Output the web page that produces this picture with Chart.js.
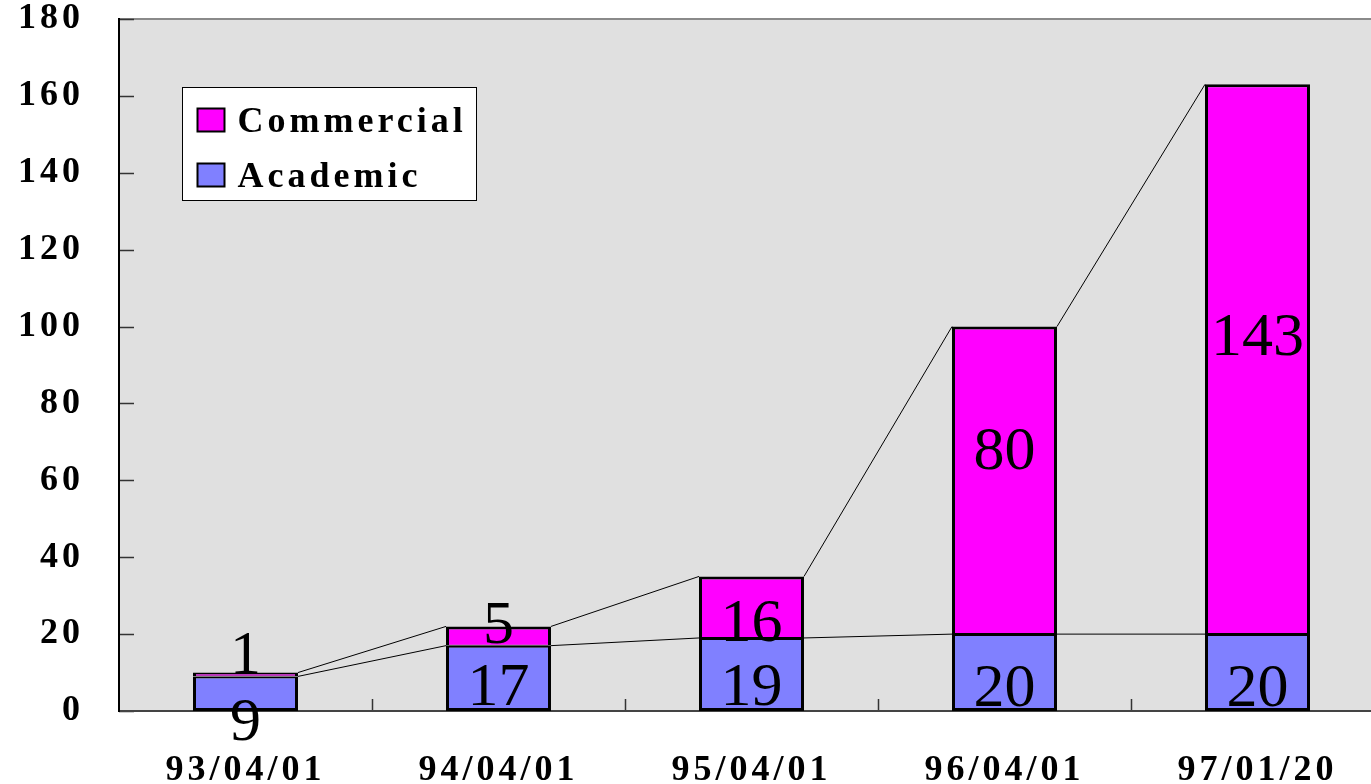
<!DOCTYPE html>
<html>
<head>
<meta charset="utf-8">
<script src="https://cdn.jsdelivr.net/npm/chart.js@4/dist/chart.umd.min.js"></script>
<style>
  html, body { margin: 0; padding: 0; background: #fff; overflow: hidden; }
  #wrap { width: 1371px; height: 784px; overflow: hidden; position: relative; }
  canvas { display: block; }
</style>
</head>
<body>
<div id="wrap"><canvas id="c" width="1384" height="784"></canvas></div>
<script>
const categories = ['93/04/01', '94/04/01', '95/04/01', '96/04/01', '97/01/20'];
const academic = [9, 17, 19, 20, 20];
const commercial = [1, 5, 16, 80, 143];
const seriesNames = ['Academic', 'Commercial'];
const yMin = 0, yMax = 180, yStep = 20;

const SERIF = "'Liberation Serif', 'Times New Roman', serif";

const decorPlugin = {
  id: 'decor',
  beforeDraw(chart) {
    const { ctx, chartArea: a } = chart;
    ctx.save();
    ctx.fillStyle = '#e0e0e0';
    ctx.fillRect(a.left, a.top, a.right - a.left, a.bottom - a.top);
    ctx.strokeStyle = '#8a8a8a';
    ctx.lineWidth = 2;
    ctx.beginPath();
    ctx.moveTo(a.left, a.top);
    ctx.lineTo(a.right, a.top);
    ctx.stroke();
    // inner ticks on y axis
    const ys = chart.scales.y;
    ctx.strokeStyle = '#333';
    ctx.lineWidth = 1.5;
    ys.ticks.forEach(t => {
      const py = Math.round(ys.getPixelForValue(t.value)) + 0.5;
      ctx.beginPath();
      ctx.moveTo(a.left, py);
      ctx.lineTo(a.left + 15, py);
      ctx.stroke();
    });
    // inner ticks on x axis (category boundaries)
    const xs = chart.scales.x;
    for (let i = 0; i < categories.length - 1; i++) {
      const px = Math.round((xs.getPixelForValue(i) + xs.getPixelForValue(i + 1)) / 2) + 0.5;
      ctx.beginPath();
      ctx.moveTo(px, a.bottom);
      ctx.lineTo(px, a.bottom - 12);
      ctx.stroke();
    }
    ctx.restore();
    ctx.letterSpacing = '4px';
  },
  afterDatasetsDraw(chart, args, opts) {
    const { ctx } = chart;
    ctx.save();
    ctx.letterSpacing = '0px';
    // series lines
    ctx.strokeStyle = '#000';
    ctx.lineWidth = 1;
    chart.data.datasets.forEach((ds, di) => {
      const bars = chart.getDatasetMeta(di).data;
      for (let i = 0; i < bars.length - 1; i++) {
        const b0 = bars[i], b1 = bars[i + 1];
        ctx.beginPath();
        ctx.moveTo(b0.x + b0.width / 2, b0.y);
        ctx.lineTo(b1.x - b1.width / 2, b1.y);
        ctx.stroke();
      }
    });
    // value labels
    ctx.fillStyle = '#000';
    ctx.font = '62px ' + SERIF;
    ctx.textAlign = 'center';
    ctx.textBaseline = 'alphabetic';
    chart.data.datasets.forEach((ds, di) => {
      const bars = chart.getDatasetMeta(di).data;
      const offs = opts.offsets[di];
      bars.forEach((b, i) => {
        const cy = (b.y + b.base) / 2 + offs[i];
        ctx.fillText(String(ds.data[i]), b.x, cy + 21);
      });
    });
    ctx.restore();
    // legend
    const a = chart.chartArea;
    ctx.save();
    const lx = a.left + 63.5, ly = a.top + 68.5;
    ctx.fillStyle = '#fff';
    ctx.fillRect(lx, ly, 294, 113);
    ctx.strokeStyle = '#000';
    ctx.lineWidth = 1;
    ctx.strokeRect(lx, ly, 294, 113);
    ctx.font = 'bold 36px ' + SERIF;
    ctx.letterSpacing = '4px';
    ctx.textAlign = 'left';
    ctx.textBaseline = 'alphabetic';
    const order = [1, 0];
    order.forEach((di, k) => {
      const ds = chart.data.datasets[di];
      const sy = ly + 21 + k * 55;
      ctx.fillStyle = ds.backgroundColor;
      ctx.fillRect(lx + 15, sy, 27, 23);
      ctx.lineWidth = 2;
      ctx.strokeStyle = '#000';
      ctx.strokeRect(lx + 15, sy, 27, 23);
      ctx.fillStyle = '#000';
      ctx.fillText(ds.label, lx + 55, sy + 23);
    });
    ctx.restore();
  }
};

new Chart(document.getElementById('c'), {
  type: 'bar',
  data: {
    labels: categories,
    datasets: [
      {
        label: seriesNames[0],
        data: academic,
        backgroundColor: '#8080ff',
        borderColor: '#000',
        borderWidth: { left: 3, right: 3, bottom: 3, top: 2 },
        borderSkipped: false,
        categoryPercentage: 1,
        barPercentage: 0.415
      },
      {
        label: seriesNames[1],
        data: commercial,
        backgroundColor: '#ff00ff',
        borderColor: '#000',
        borderWidth: { left: 3, right: 3, top: 3, bottom: 1 },
        borderSkipped: false,
        categoryPercentage: 1,
        barPercentage: 0.415
      }
    ]
  },
  options: {
    responsive: false,
    animation: false,
    events: [],
    layout: { padding: { top: 19, left: 0, right: 0, bottom: 0 } },
    plugins: {
      legend: { display: false },
      tooltip: { enabled: false },
      decor: { offsets: [[25, 6, 10, 12, 12], [-22, -14, 13, -32, -25]] }
    },
    scales: {
      x: {
        stacked: true,
        grid: { display: false, drawTicks: false },
        border: { display: true, color: '#444', width: 2 },
        ticks: {
          color: '#000',
          font: { family: SERIF, size: 36, weight: 'bold' },
          padding: 38,
          maxRotation: 0
        },
        afterFit(s) { s.height = 73; s.paddingLeft = 0; s.paddingRight = 0; }
      },
      y: {
        stacked: true,
        min: yMin,
        max: yMax,
        grid: { display: false, drawTicks: false },
        border: { display: true, color: '#000', width: 2 },
        ticks: {
          stepSize: yStep,
          color: '#000',
          font: { family: SERIF, size: 36, weight: 'bold' },
          padding: 35
        },
        afterFit(s) { s.width = 119; s.paddingTop = 0; s.paddingBottom = 0; }
      }
    }
  },
  plugins: [decorPlugin]
});
</script>
</body>
</html>
